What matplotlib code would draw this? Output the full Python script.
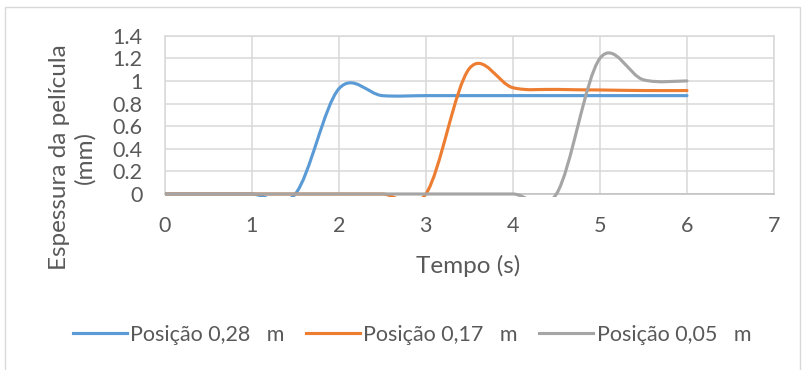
import matplotlib
matplotlib.use("Agg")
import matplotlib.pyplot as plt
from matplotlib.path import Path
from matplotlib.patches import PathPatch, Rectangle
from matplotlib.lines import Line2D
from matplotlib.ticker import FuncFormatter, MultipleLocator

# Espessura da película (mm) medida a cada 0,5 s
tempo = [0.0, 0.5, 1.0, 1.5, 2.0, 2.5, 3.0, 3.5, 4.0, 4.5, 5.0, 5.5, 6.0]
pos_028 = [0, 0, 0, 0, 0.93, 0.87, 0.87, 0.87, 0.87, 0.87, 0.87, 0.87, 0.87]
pos_017 = [0, 0, 0, 0, 0, 0, 0, 1.11, 0.94, 0.925, 0.92, 0.915, 0.915]
pos_005 = [0, 0, 0, 0, 0, 0, 0, 0, 0, 0, 1.20, 1.01, 1.00]

series = [
    ("Posição 0,28   m", pos_028, "#5b9bd5"),
    ("Posição 0,17   m", pos_017, "#ed7d31"),
    ("Posição 0,05   m", pos_005, "#a5a5a5"),
]

TEXT = "#595959"
GRID = "#d9d9d9"
plt.rcParams["font.family"] = ["Lato", "DejaVu Sans"]


def smooth_path(x, y):
    # Catmull-Rom segments written as cubic Bezier curves
    n = len(x)
    verts = [(x[0], y[0])]
    codes = [Path.MOVETO]
    for i in range(n - 1):
        x0, y0 = (x[i - 1], y[i - 1]) if i > 0 else (x[i], y[i])
        x1, y1 = x[i], y[i]
        x2, y2 = x[i + 1], y[i + 1]
        x3, y3 = (x[i + 2], y[i + 2]) if i + 2 < n else (x2, y2)
        c1 = (x1 + (x2 - x0) / 6, y1 + (y2 - y0) / 6)
        c2 = (x2 - (x3 - x1) / 6, y2 - (y3 - y1) / 6)
        verts += [c1, c2, (x2, y2)]
        codes += [Path.CURVE4] * 3
    return Path(verts, codes)


fig = plt.figure(figsize=(8.02, 3.70), dpi=100)
ax = fig.add_axes([0.2054, 0.4757, 0.7597, 0.4278])

# lines may spill a couple of pixels under the x axis before being cut
clip = Rectangle((0, -0.016), 1, 1.04, transform=ax.transAxes,
                 fill=False, visible=False)
ax.add_artist(clip)

for label, vals, color in series:
    patch = PathPatch(smooth_path(tempo, vals), fill=False, edgecolor=color,
                      lw=2.25, capstyle="round", joinstyle="round", zorder=3)
    ax.add_patch(patch)
    patch.set_clip_path(clip)

ax.set_xlim(0, 7)
ax.set_ylim(0, 1.4)
ax.xaxis.set_major_locator(MultipleLocator(1))
ax.yaxis.set_major_locator(MultipleLocator(0.2))
ax.yaxis.set_major_formatter(FuncFormatter(lambda v, p: f"{v:g}"))
ax.grid(True, color=GRID, lw=1.1, zorder=0)
ax.set_axisbelow(True)
for s in ax.spines.values():
    s.set_color(GRID)
    s.set_linewidth(1.1)
ax.spines["bottom"].set_color("#bfbfbf")
ax.tick_params(length=0, labelsize=15.5, labelcolor=TEXT)
ax.tick_params(axis="y", pad=16)
ax.tick_params(axis="x", pad=16)

fig.text(468 / 802, 1 - 266 / 370, "Tempo (s)", ha="center", va="center",
         fontsize=17.5, color=TEXT)
fig.text(72 / 802, 1 - 157 / 370, "Espessura da película\n(mm)", rotation=90,
         ha="center", va="center", multialignment="center", fontsize=17.5,
         color=TEXT, linespacing=1.2)

handles = [Line2D([], [], color=c, lw=2.25) for _, _, c in series]
fig.legend(handles, [s[0] for s in series], loc="center",
           bbox_to_anchor=(0.514, 1 - 335 / 370), ncol=3, frameon=False,
           fontsize=15.5, labelcolor=TEXT, handlelength=2.5, handletextpad=0.15,
           columnspacing=1.0)

fig.add_artist(Rectangle((5 / 802, -0.05), 795 / 802, 1.05 - 7 / 370,
                         transform=fig.transFigure, fill=False,
                         edgecolor=GRID, lw=1.0))

fig.savefig("out.png", dpi=100)
